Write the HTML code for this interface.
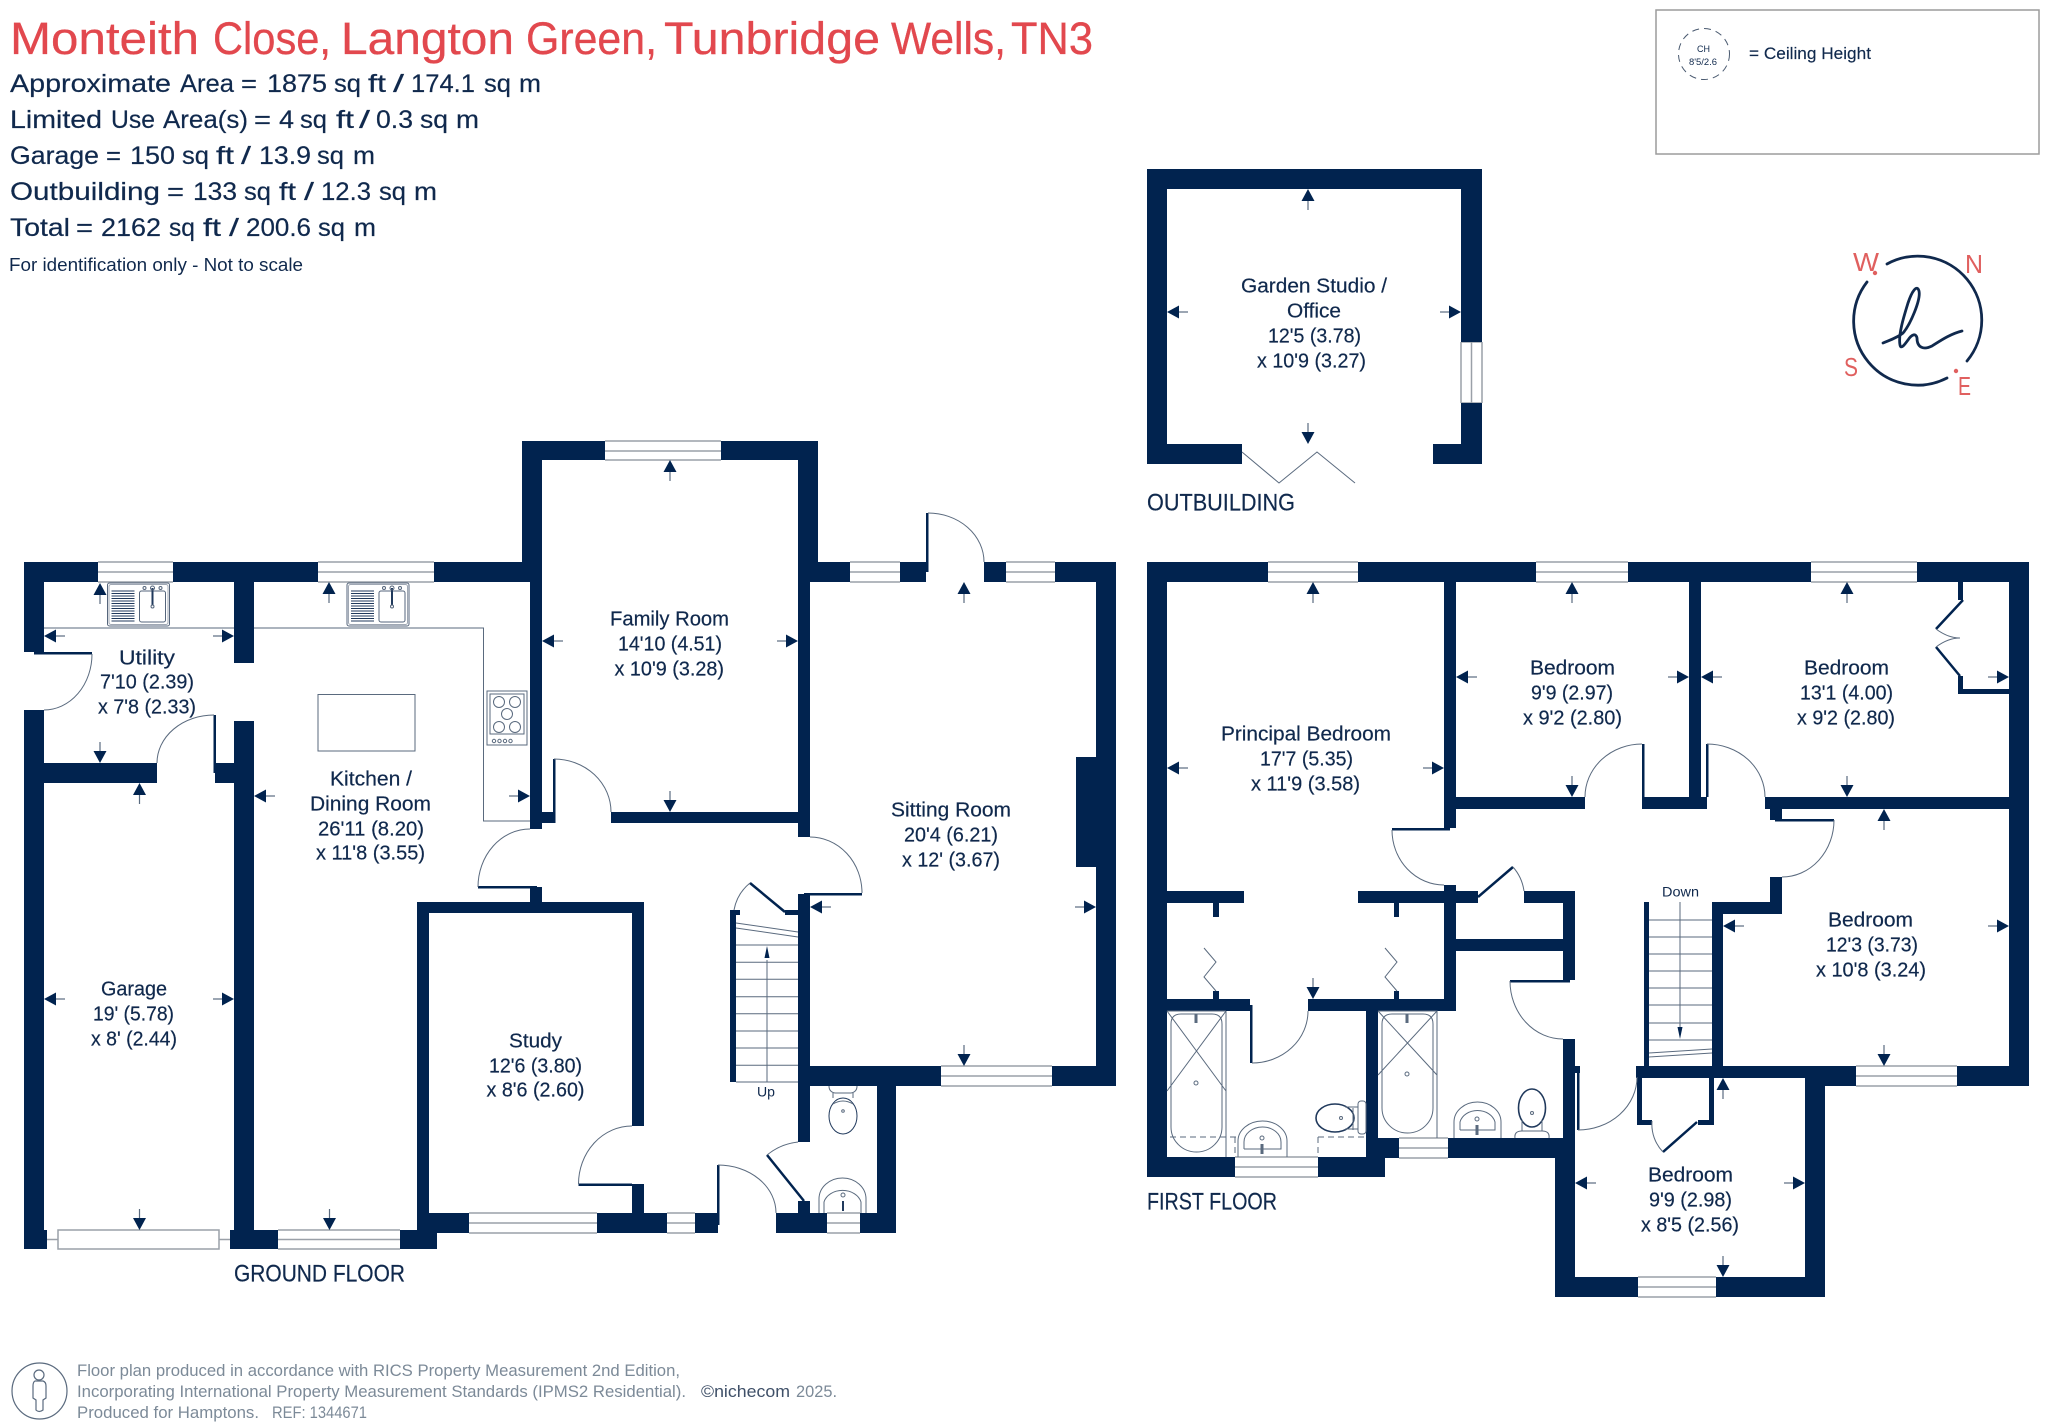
<!DOCTYPE html>
<html><head><meta charset="utf-8"><style>
html,body{margin:0;padding:0;background:#fff}
svg{display:block}
text{font-family:"Liberation Sans",sans-serif;fill:#10294d}
.r{font-size:20px;stroke:#10294d;stroke-width:.2}
.h{font-size:25px;stroke:#10294d;stroke-width:.2}
.f{font-size:24px;stroke:#10294d;stroke-width:.2}
.g{font-size:17px;fill:#7c8a98}
.t{font-size:45px;fill:#e2484e;stroke:#e2484e;stroke-width:.3}
</style></head><body>
<svg width="2048" height="1427" viewBox="0 0 2048 1427" xmlns="http://www.w3.org/2000/svg">
<defs>
<g id="a"><path d="M0 0L-6.5 12H6.5Z" fill="#01234f"/><path d="M0 12V21" stroke="#5a6b80" stroke-width="1.2" fill="none"/></g>
<g id="sink" fill="none" stroke="#56667c" stroke-width="1">
<rect x="0" y="0" width="62" height="43" rx="2"/>
<rect x="1.5" y="1.5" width="59" height="40" rx="2" stroke="#a0a8b4"/>
<path d="M4 8H27M4 10.500H27M4 13H27M4 15.500H27M4 18H27M4 20.500H27M4 23H27M4 25.500H27M4 28H27M4 30.500H27M4 33H27M4 35.500H27M4 38H27" stroke="#20395c"/>
<rect x="32" y="8" width="26" height="31" rx="2"/>
<path d="M45 5V22" stroke="#20395c" stroke-width="2"/>
<circle cx="45" cy="23.500" r="1.500"/><circle cx="45" cy="5" r="2"/><circle cx="37" cy="5" r="1.500"/><circle cx="53" cy="5" r="1.500"/>
</g>
</defs>

<!-- header -->
<text class="t" x="10" y="54" textLength="189" lengthAdjust="spacingAndGlyphs">Monteith</text>
<text class="t" x="213" y="54" textLength="118" lengthAdjust="spacingAndGlyphs">Close,</text>
<text class="t" x="341" y="54" textLength="173" lengthAdjust="spacingAndGlyphs">Langton</text>
<text class="t" x="526" y="54" textLength="131" lengthAdjust="spacingAndGlyphs">Green,</text>
<text class="t" x="664" y="54" textLength="216" lengthAdjust="spacingAndGlyphs">Tunbridge</text>
<text class="t" x="891" y="54" textLength="115" lengthAdjust="spacingAndGlyphs">Wells,</text>
<text class="t" x="1011" y="54" textLength="82" lengthAdjust="spacingAndGlyphs">TN3</text>

<text class="h" x="10" y="92" textLength="161" lengthAdjust="spacingAndGlyphs">Approximate</text>
<text class="h" x="180" y="92" textLength="54" lengthAdjust="spacingAndGlyphs">Area</text>
<text class="h" x="241" y="92" textLength="16" lengthAdjust="spacingAndGlyphs">=</text>
<text class="h" x="267" y="92" textLength="60" lengthAdjust="spacingAndGlyphs">1875</text>
<text class="h" x="334" y="92" textLength="27" lengthAdjust="spacingAndGlyphs">sq</text>
<text class="h" x="368" y="92" textLength="18" lengthAdjust="spacingAndGlyphs">ft</text>
<text class="h" x="393" y="92" textLength="11" lengthAdjust="spacingAndGlyphs">/</text>
<text class="h" x="411" y="92" textLength="64" lengthAdjust="spacingAndGlyphs">174.1</text>
<text class="h" x="484" y="92" textLength="27" lengthAdjust="spacingAndGlyphs">sq</text>
<text class="h" x="519" y="92" textLength="22" lengthAdjust="spacingAndGlyphs">m</text>

<text class="h" x="10" y="128" textLength="92" lengthAdjust="spacingAndGlyphs">Limited</text>
<text class="h" x="111" y="128" textLength="44" lengthAdjust="spacingAndGlyphs">Use</text>
<text class="h" x="163" y="128" textLength="85" lengthAdjust="spacingAndGlyphs">Area(s)</text>
<text class="h" x="254" y="128" textLength="17" lengthAdjust="spacingAndGlyphs">=</text>
<text class="h" x="279" y="128" textLength="15" lengthAdjust="spacingAndGlyphs">4</text>
<text class="h" x="300" y="128" textLength="27" lengthAdjust="spacingAndGlyphs">sq</text>
<text class="h" x="336" y="128" textLength="18" lengthAdjust="spacingAndGlyphs">ft</text>
<text class="h" x="359" y="128" textLength="11" lengthAdjust="spacingAndGlyphs">/</text>
<text class="h" x="376" y="128" textLength="37" lengthAdjust="spacingAndGlyphs">0.3</text>
<text class="h" x="420" y="128" textLength="28" lengthAdjust="spacingAndGlyphs">sq</text>
<text class="h" x="456" y="128" textLength="23" lengthAdjust="spacingAndGlyphs">m</text>

<text class="h" x="10" y="164" textLength="89" lengthAdjust="spacingAndGlyphs">Garage</text>
<text class="h" x="106" y="164" textLength="15" lengthAdjust="spacingAndGlyphs">=</text>
<text class="h" x="130" y="164" textLength="45" lengthAdjust="spacingAndGlyphs">150</text>
<text class="h" x="182" y="164" textLength="27" lengthAdjust="spacingAndGlyphs">sq</text>
<text class="h" x="216" y="164" textLength="18" lengthAdjust="spacingAndGlyphs">ft</text>
<text class="h" x="241" y="164" textLength="10" lengthAdjust="spacingAndGlyphs">/</text>
<text class="h" x="259" y="164" textLength="52" lengthAdjust="spacingAndGlyphs">13.9</text>
<text class="h" x="317" y="164" textLength="27" lengthAdjust="spacingAndGlyphs">sq</text>
<text class="h" x="353" y="164" textLength="22" lengthAdjust="spacingAndGlyphs">m</text>

<text class="h" x="10" y="200" textLength="150" lengthAdjust="spacingAndGlyphs">Outbuilding</text>
<text class="h" x="167" y="200" textLength="17" lengthAdjust="spacingAndGlyphs">=</text>
<text class="h" x="193" y="200" textLength="44" lengthAdjust="spacingAndGlyphs">133</text>
<text class="h" x="244" y="200" textLength="27" lengthAdjust="spacingAndGlyphs">sq</text>
<text class="h" x="279" y="200" textLength="17" lengthAdjust="spacingAndGlyphs">ft</text>
<text class="h" x="304" y="200" textLength="10" lengthAdjust="spacingAndGlyphs">/</text>
<text class="h" x="321" y="200" textLength="50" lengthAdjust="spacingAndGlyphs">12.3</text>
<text class="h" x="379" y="200" textLength="27" lengthAdjust="spacingAndGlyphs">sq</text>
<text class="h" x="414" y="200" textLength="23" lengthAdjust="spacingAndGlyphs">m</text>

<text class="h" x="10" y="236" textLength="60" lengthAdjust="spacingAndGlyphs">Total</text>
<text class="h" x="76" y="236" textLength="17" lengthAdjust="spacingAndGlyphs">=</text>
<text class="h" x="101" y="236" textLength="60" lengthAdjust="spacingAndGlyphs">2162</text>
<text class="h" x="169" y="236" textLength="26" lengthAdjust="spacingAndGlyphs">sq</text>
<text class="h" x="203" y="236" textLength="18" lengthAdjust="spacingAndGlyphs">ft</text>
<text class="h" x="229" y="236" textLength="10" lengthAdjust="spacingAndGlyphs">/</text>
<text class="h" x="246" y="236" textLength="65" lengthAdjust="spacingAndGlyphs">200.6</text>
<text class="h" x="318" y="236" textLength="27" lengthAdjust="spacingAndGlyphs">sq</text>
<text class="h" x="354" y="236" textLength="22" lengthAdjust="spacingAndGlyphs">m</text>

<text x="9" y="271" font-size="18" textLength="294" lengthAdjust="spacingAndGlyphs">For identification only - Not to scale</text>

<!-- legend -->
<rect x="1656" y="10" width="383" height="144" fill="none" stroke="#9c9c9c" stroke-width="1.500"/>
<circle cx="1704" cy="54" r="25.500" fill="none" stroke="#4a5a70" stroke-width="1" stroke-dasharray="7 5"/>
<text x="1697" y="52" font-size="9.500" textLength="13" lengthAdjust="spacingAndGlyphs">CH</text>
<text x="1689" y="65" font-size="9.500" textLength="28" lengthAdjust="spacingAndGlyphs">8'5/2.6</text>
<text x="1749" y="59" font-size="17" textLength="122" lengthAdjust="spacingAndGlyphs" style="stroke:#10294d;stroke-width:.15">= Ceiling Height</text>

<!-- compass -->
<g fill="none" stroke="#10294d" stroke-width="2.800" stroke-linecap="round">
<path d="M1867 282A64 64 0 0 0 1947 378"/>
<path d="M1887 264A64 64 0 0 1 1967 361"/>
<path d="M1883 343C1890 340 1897 338 1903 333C1910 325 1921 300 1919 291C1917 284 1912 291 1908 303C1904 316 1898 335 1900 345C1901 350 1905 344 1908 340C1912 334 1916 333 1917 338C1917 348 1924 350 1932 346C1940 341 1950 334 1962 331"/>
</g>
<text x="1853" y="271" font-size="26" style="fill:#e0605f" textLength="26" lengthAdjust="spacingAndGlyphs">W</text>
<text x="1965" y="273" font-size="26" style="fill:#e0605f" textLength="18" lengthAdjust="spacingAndGlyphs">N</text>
<text x="1844" y="376" font-size="26" style="fill:#e0605f" textLength="14" lengthAdjust="spacingAndGlyphs">S</text>
<text x="1958" y="395" font-size="26" style="fill:#e0605f" textLength="13" lengthAdjust="spacingAndGlyphs">E</text>
<circle cx="1875" cy="273" r="2.200" fill="#e0605f"/><circle cx="1956" cy="371" r="2.200" fill="#e0605f"/>

<!-- windows -->
<path fill="none" stroke="#9aa0a8" stroke-width="1.500" d="
M98 562H173M98 572H173M98 582H173
M318 562H434M318 572H434M318 582H434
M605 441H721M605 451H721M605 460H721
M850 562H900M850 572H900M850 582H900
M1006 562H1055M1006 572H1055M1006 582H1055
M941 1066H1052M941 1076H1052M941 1086H1052
M469 1213H597M469 1223H597M469 1233H597
M667 1213H695M667 1223H695M667 1233H695
M827 1213H860M827 1223H860M827 1233H860
M278 1230H400M278 1239.500H400M278 1249H400
M1268 562H1358M1268 572H1358M1268 582H1358
M1536 562H1628M1536 572H1628M1536 582H1628
M1811 562H1917M1811 572H1917M1811 582H1917
M1235 1157H1318M1235 1167H1318M1235 1177H1318
M1399 1138H1448M1399 1148H1448M1399 1158H1448
M1856 1066H1957M1856 1076H1957M1856 1086H1957
M1638 1277H1716M1638 1287H1716M1638 1297H1716
M1461 342V403M1471.500 342V403M1482 342V403M1461 342H1482M1461 403H1482
M58 1230H219V1249H58ZM47 1239.500H58M219 1239.500H230"/>

<!-- walls -->
<path fill="#01234f" d="
M24 562H98V582H24Z M173 562H318V582H173Z M434 562H530V582H434Z
M24 562H44V652H24Z M24 710H44V1230H24Z M24 1230H47V1249H24Z
M234 582H254V663H234Z M234 721H254V1230H234Z M230 1230H278V1249H230Z
M44 763H157V783H44Z M215 763H234V783H215Z
M522 441H542V562H522Z M530 562H542V829H530Z
M522 441H605V460H522Z M721 441H818V460H721Z
M798 441H818V582H798Z M798 562H810V837H798Z
M542 812H553V823H542Z M611 812H798V823H611Z
M818 562H850V582H818Z M900 562H926V582H900Z M984 562H1006V582H984Z M1055 562H1116V582H1055Z
M1096 562H1116V1086H1096Z M1076 757H1096V867H1076Z
M798 894H810V1142H798Z M798 1066H941V1086H798Z M1052 1066H1116V1086H1052Z
M877 1086H896V1233H877Z M776 1213H827V1233H776Z M860 1213H896V1233H860Z M798 1201H810V1213H798Z
M695 1213H718V1233H695Z M597 1213H667V1233H597Z M417 1213H469V1233H417Z
M417 902H644V913H417Z M417 902H429V1213H417Z M632 913H644V1126H632Z M632 1184H644V1213H632Z
M530 887H542V902H530Z M400 1230H437V1249H400Z
M730 910H736V1082H730Z M730 910H740V915H730Z M785 910H798V915H785Z
M34 652H92V654.500H34Z M213.500 715H216V773H213.500Z M553 759H555.500V823H553Z M478 886H537V888.500H478Z
M804 893H862V895.500H804Z M926 513H928.500V572H926Z M578.500 1183.500H632V1186H578.500Z M717 1165H719.500V1225H717Z

M1147 562H1268V582H1147Z M1358 562H1536V582H1358Z M1628 562H1811V582H1628Z M1917 562H2029V582H1917Z
M1147 562H1167V1177H1147Z
M1444 582H1456V828H1444Z M1444 885H1456V1011H1444Z
M1456 797H1585V809H1456Z M1642 797H1707V809H1642Z M1689 582H1701V797H1689Z M1765 797H2009V809H1765Z
M1770 809H1782V820H1770Z M1770 877H1782V914H1770Z M1712 902H1782V914H1712Z M1712 902H1723V1066H1712Z
M2009 562H2029V1086H2009Z
M1636 1066H1825V1078H1636Z M1825 1066H1856V1086H1825Z M1805 1066H1825V1297H1805Z M1957 1066H2029V1086H1957Z
M1563 1039H1575V1138H1563Z M1555 1138H1575V1297H1555Z M1555 1277H1638V1297H1555Z M1716 1277H1825V1297H1716Z
M1637 1078H1642V1125H1637Z M1637 1120H1652V1125H1637Z M1709 1078H1714V1125H1709Z M1698 1120H1714V1125H1698Z
M1644 902H1649V1066H1644Z M1575 1066H1580V1073H1575Z
M1167 891H1244V903H1167Z M1358 891H1478V903H1358Z M1524 891H1575V903H1524Z M1563 891H1575V980H1563Z M1456 939H1563V951H1456Z
M1213 903H1219V917H1213Z M1394 903H1399V917H1394Z M1213 991H1219V999H1213Z M1394 991H1399V999H1394Z
M1167 999H1250V1011H1167Z M1308 999H1456V1011H1308Z M1250 1005H1252.500V1063H1250Z
M1366 1011H1378V1158H1366Z M1147 1157H1235V1177H1147Z M1318 1157H1385V1177H1318Z M1378 1138H1399V1158H1378Z M1448 1138H1575V1158H1448Z
M1958 582H1963V600H1958Z M1958 676H1963V694H1958Z M1958 689H2009V694H1958Z
M1392 828H1450V830.500H1392Z M1642 744H1644.500V797H1642Z M1706 744H1708.500V797H1706Z M1775 819H1834V821.500H1775Z
M1510 980H1570V982.500H1510Z M1577 1073H1579.500V1130H1577Z

M1147 169H1482V189H1147Z M1147 169H1167V464H1147Z M1461 169H1482V342H1461Z M1461 403H1482V464H1461Z M1147 444H1242V464H1147Z M1433 444H1482V464H1433Z"/>

<!-- door leaves (angled) -->
<g fill="none" stroke="#01234f" stroke-width="2.500">
<path d="M804 1201L767 1155M750 883L785 912M1478 897L1513 867M1663 1152L1697 1122"/>
<path d="M1963 600L1936 629M1936 647L1960 676"/>
</g>

<!-- door arcs & thin lines -->
<g fill="none" stroke="#5a6a7e" stroke-width="1">
<path d="M92 654A48 56 0 0 1 44 710"/>
<path d="M214 715A57 48 0 0 0 157 763"/>
<path d="M554 759A57 53 0 0 1 611 812"/>
<path d="M530 829A52 58 0 0 0 478 887"/>
<path d="M810 837A52 56 0 0 1 862 893"/>
<path d="M928 513A56 49 0 0 1 984 562"/>
<path d="M632 1126A53.500 58 0 0 0 578.500 1184"/>
<path d="M718 1165A58 48 0 0 1 776 1213"/>
<path d="M798 1142A59 59 0 0 0 767 1155"/>
<path d="M734 910A45 45 0 0 1 750 883"/>
<path d="M1392 830A52 55 0 0 0 1444 885"/>
<path d="M1585 797A57 53 0 0 1 1642 744"/>
<path d="M1707 744A58 53 0 0 1 1765 797"/>
<path d="M1834 820A52 57 0 0 1 1782 877"/>
<path d="M1513 867A46 46 0 0 1 1524 891"/>
<path d="M1252 1063A56 52 0 0 0 1308 1011"/>
<path d="M1510 981A53 58 0 0 0 1563 1039"/>
<path d="M1578 1130A59 53 0 0 0 1637 1077"/>
<path d="M1652 1121A40 40 0 0 0 1663 1152"/>
<path d="M1936 629Q1948 638 1960 638Q1948 638 1936 647"/>
<!-- bifold -->
<path d="M1242 452L1279 483L1317 452L1355 483"/>
<!-- wardrobes -->
<path d="M1204 948L1216 962L1204 977L1216 991M1385 948L1397 962L1385 977L1397 991"/>
<!-- worktop -->
<path d="M44 628H234M254 628H483.500V821H530"/>
<rect x="318" y="694.500" width="97" height="56.500"/>
<!-- stairs -->
<path d="M736 923L798 932M736 928L798 937M736 945H798M736 962.300H798M736 979.300H798M736 996.700H798M736 1013.700H798M736 1031H798M736 1048H798M736 1065.300H798M736 1082H798M767 1082V960"/>
<path d="M1649 920H1712M1649 937H1712M1649 954H1712M1649 971H1712M1649 988H1712M1649 1005H1712M1649 1023H1712M1649 1040H1712M1649 1053L1712 1049M1649 1057L1712 1053M1680 902V1030"/>
<!-- hob -->
<rect x="487" y="691" width="40" height="54"/><rect x="490" y="694" width="34" height="40"/>
<circle cx="499" cy="702" r="5.500"/><circle cx="515" cy="702" r="5.500"/><circle cx="507" cy="714" r="5.500"/><circle cx="499" cy="727" r="5.500"/><circle cx="515" cy="727" r="5.500"/>
<circle cx="494" cy="741" r="1.700"/><circle cx="499.500" cy="741" r="1.700"/><circle cx="505" cy="741" r="1.700"/><circle cx="510.500" cy="741" r="1.700"/>
<!-- WC -->
<path d="M829 1086Q829 1092 835 1093H851Q857 1092 857 1086"/>
<path d="M833 1093V1098M853 1093V1098"/>
<ellipse cx="843" cy="1116" rx="14" ry="18" stroke="#20395c"/>
<path d="M833 1104Q843 1098 853 1104"/>
<circle cx="843" cy="1111" r="1.300"/>
<path d="M819 1213V1199A23.500 21 0 0 1 866 1199V1213M824 1213V1202A19 15 0 0 1 861 1202V1213"/>
<circle cx="843" cy="1195" r="2"/>
<path d="M843 1201V1211" stroke="#20395c" stroke-width="2"/>
<!-- bath 1 -->
<path d="M1226 1011V1157M1167 1011H1226"/>
<path d="M1171 1024Q1171 1014 1181 1014H1212Q1222 1014 1222 1024V1127A25.500 25 0 0 1 1171 1127Z"/>
<path d="M1167 1011L1226 1091M1226 1011L1167 1091"/>
<circle cx="1196" cy="1083" r="2"/>
<path d="M1196 1014V1023" stroke-width="3"/>
<path d="M1170 1137H1236M1235 1137V1157M1318 1137H1366M1318 1137V1157" stroke-dasharray="6 4"/>
<!-- basin 1 -->
<path d="M1238 1157V1141A24.500 20 0 0 1 1287 1141V1157"/>
<path d="M1244 1149V1142A18.500 15 0 0 1 1281 1142V1149H1244"/>
<circle cx="1262" cy="1138" r="2"/><path d="M1262 1144V1154" stroke-width="3"/>
<!-- toilet 1 -->
<ellipse cx="1335" cy="1118" rx="19" ry="14" stroke="#20395c" stroke-width="1.600"/>
<path d="M1345 1107H1358M1345 1129H1358M1353 1108V1130"/>
<rect x="1358" y="1101" width="8" height="33" rx="3"/>
<circle cx="1341" cy="1118" r="1.500"/>
<!-- bath 2 -->
<path d="M1378 1011H1437V1138"/>
<path d="M1382 1024Q1382 1014 1392 1014H1423Q1433 1014 1433 1024V1108A25.500 25 0 0 1 1382 1108Z"/>
<path d="M1378 1011L1437 1075M1437 1011L1378 1075"/>
<circle cx="1407" cy="1074" r="2"/>
<path d="M1407 1014V1023" stroke-width="3"/>
<!-- basin 2 -->
<path d="M1454 1138V1122A23.500 20 0 0 1 1501 1122V1138"/>
<path d="M1460 1130V1122A18 15 0 0 1 1495 1122V1130H1460"/>
<circle cx="1477" cy="1119" r="2"/><path d="M1477 1125V1135" stroke-width="3"/>
<!-- toilet 2 -->
<ellipse cx="1532" cy="1108" rx="13.500" ry="19" stroke="#20395c" stroke-width="1.600"/>
<path d="M1515 1138Q1514 1131 1522 1131H1542Q1550 1131 1549 1138"/>
<path d="M1522 1120V1131M1542 1120V1131"/>
<circle cx="1532" cy="1113" r="1.500"/>
</g>
<use href="#sink" x="107.500" y="583"/>
<use href="#sink" x="347" y="583"/>

<!-- stair arrowheads -->
<path d="M767 946L764.500 958H769.500Z" fill="#01234f"/>
<path d="M1680 1039L1677.500 1027H1682.500Z" fill="#01234f"/>

<!-- dimension arrows -->
<use href="#a" transform="translate(100 583)"/>
<use href="#a" transform="translate(329 582)"/>
<use href="#a" transform="translate(44 636) rotate(270)"/>
<use href="#a" transform="translate(234 636) rotate(90)"/>
<use href="#a" transform="translate(100 763) rotate(180)"/>
<use href="#a" transform="translate(139.500 783)"/>
<use href="#a" transform="translate(254 796) rotate(270)"/>
<use href="#a" transform="translate(530 796) rotate(90)"/>
<use href="#a" transform="translate(44 999) rotate(270)"/>
<use href="#a" transform="translate(234 999) rotate(90)"/>
<use href="#a" transform="translate(139.500 1230) rotate(180)"/>
<use href="#a" transform="translate(329.500 1230) rotate(180)"/>
<use href="#a" transform="translate(670 460)"/>
<use href="#a" transform="translate(542 641) rotate(270)"/>
<use href="#a" transform="translate(798 641) rotate(90)"/>
<use href="#a" transform="translate(670 812) rotate(180)"/>
<use href="#a" transform="translate(964 582)"/>
<use href="#a" transform="translate(810 907) rotate(270)"/>
<use href="#a" transform="translate(1096 907) rotate(90)"/>
<use href="#a" transform="translate(964 1066) rotate(180)"/>
<use href="#a" transform="translate(1308 189)"/>
<use href="#a" transform="translate(1308 444) rotate(180)"/>
<use href="#a" transform="translate(1167 312) rotate(270)"/>
<use href="#a" transform="translate(1461 312) rotate(90)"/>
<use href="#a" transform="translate(1313 582)"/>
<use href="#a" transform="translate(1167 768) rotate(270)"/>
<use href="#a" transform="translate(1444 768) rotate(90)"/>
<use href="#a" transform="translate(1313 999) rotate(180)"/>
<use href="#a" transform="translate(1572 582)"/>
<use href="#a" transform="translate(1456 677) rotate(270)"/>
<use href="#a" transform="translate(1689 677) rotate(90)"/>
<use href="#a" transform="translate(1572 797) rotate(180)"/>
<use href="#a" transform="translate(1847 582)"/>
<use href="#a" transform="translate(1701 677) rotate(270)"/>
<use href="#a" transform="translate(2009 677) rotate(90)"/>
<use href="#a" transform="translate(1847 797) rotate(180)"/>
<use href="#a" transform="translate(1884 809)"/>
<use href="#a" transform="translate(1723 926) rotate(270)"/>
<use href="#a" transform="translate(2009 926) rotate(90)"/>
<use href="#a" transform="translate(1884 1066) rotate(180)"/>
<use href="#a" transform="translate(1723 1078)"/>
<use href="#a" transform="translate(1575 1183) rotate(270)"/>
<use href="#a" transform="translate(1805 1183) rotate(90)"/>
<use href="#a" transform="translate(1723 1277) rotate(180)"/>

<!-- room labels -->
<g transform="translate(0 -0.7)">
<text class="r" x="119" y="665" textLength="56" lengthAdjust="spacingAndGlyphs">Utility</text>
<text class="r" x="100" y="689" textLength="94" lengthAdjust="spacingAndGlyphs">7'10 (2.39)</text>
<text class="r" x="98" y="714" textLength="98" lengthAdjust="spacingAndGlyphs">x 7'8 (2.33)</text>
<text class="r" x="330" y="786" textLength="82" lengthAdjust="spacingAndGlyphs">Kitchen /</text>
<text class="r" x="310" y="811" textLength="121" lengthAdjust="spacingAndGlyphs">Dining Room</text>
<text class="r" x="318" y="836" textLength="106" lengthAdjust="spacingAndGlyphs">26'11 (8.20)</text>
<text class="r" x="316" y="860" textLength="109" lengthAdjust="spacingAndGlyphs">x 11'8 (3.55)</text>
<text class="r" x="101" y="996" textLength="66" lengthAdjust="spacingAndGlyphs">Garage</text>
<text class="r" x="93" y="1021" textLength="81" lengthAdjust="spacingAndGlyphs">19' (5.78)</text>
<text class="r" x="91" y="1046" textLength="86" lengthAdjust="spacingAndGlyphs">x 8' (2.44)</text>
<text class="r" x="509" y="1048" textLength="53" lengthAdjust="spacingAndGlyphs">Study</text>
<text class="r" x="489" y="1073" textLength="93" lengthAdjust="spacingAndGlyphs">12'6 (3.80)</text>
<text class="r" x="486.500" y="1097" textLength="98" lengthAdjust="spacingAndGlyphs">x 8'6 (2.60)</text>
<text class="r" x="610" y="626" textLength="119" lengthAdjust="spacingAndGlyphs">Family Room</text>
<text class="r" x="618" y="651" textLength="104" lengthAdjust="spacingAndGlyphs">14'10 (4.51)</text>
<text class="r" x="614.500" y="676" textLength="109.500" lengthAdjust="spacingAndGlyphs">x 10'9 (3.28)</text>
<text class="r" x="891" y="817" textLength="120" lengthAdjust="spacingAndGlyphs">Sitting Room</text>
<text class="r" x="904" y="842" textLength="94" lengthAdjust="spacingAndGlyphs">20'4 (6.21)</text>
<text class="r" x="902" y="867" textLength="98" lengthAdjust="spacingAndGlyphs">x 12' (3.67)</text>
<text x="757" y="1097" font-size="14" textLength="18" lengthAdjust="spacingAndGlyphs">Up</text>
<text x="1662" y="897" font-size="14" textLength="37" lengthAdjust="spacingAndGlyphs">Down</text>
<text class="f" x="234" y="1282" textLength="171" lengthAdjust="spacingAndGlyphs">GROUND FLOOR</text>
<text class="f" x="1147" y="1210" textLength="130" lengthAdjust="spacingAndGlyphs">FIRST FLOOR</text>
<text class="f" x="1147" y="511" textLength="148" lengthAdjust="spacingAndGlyphs">OUTBUILDING</text>
<text class="r" x="1241" y="293" textLength="146" lengthAdjust="spacingAndGlyphs">Garden Studio /</text>
<text class="r" x="1287" y="318" textLength="54" lengthAdjust="spacingAndGlyphs">Office</text>
<text class="r" x="1268" y="343" textLength="93" lengthAdjust="spacingAndGlyphs">12'5 (3.78)</text>
<text class="r" x="1257" y="368" textLength="109" lengthAdjust="spacingAndGlyphs">x 10'9 (3.27)</text>
<text class="r" x="1221" y="741" textLength="170" lengthAdjust="spacingAndGlyphs">Principal Bedroom</text>
<text class="r" x="1260" y="766" textLength="93" lengthAdjust="spacingAndGlyphs">17'7 (5.35)</text>
<text class="r" x="1251" y="791" textLength="109" lengthAdjust="spacingAndGlyphs">x 11'9 (3.58)</text>
<text class="r" x="1530" y="675" textLength="85" lengthAdjust="spacingAndGlyphs">Bedroom</text>
<text class="r" x="1531" y="700" textLength="82" lengthAdjust="spacingAndGlyphs">9'9 (2.97)</text>
<text class="r" x="1523" y="725" textLength="99" lengthAdjust="spacingAndGlyphs">x 9'2 (2.80)</text>
<text class="r" x="1804" y="675" textLength="85" lengthAdjust="spacingAndGlyphs">Bedroom</text>
<text class="r" x="1800" y="700" textLength="93" lengthAdjust="spacingAndGlyphs">13'1 (4.00)</text>
<text class="r" x="1797" y="725" textLength="98" lengthAdjust="spacingAndGlyphs">x 9'2 (2.80)</text>
<text class="r" x="1828" y="927" textLength="85" lengthAdjust="spacingAndGlyphs">Bedroom</text>
<text class="r" x="1826" y="952" textLength="92" lengthAdjust="spacingAndGlyphs">12'3 (3.73)</text>
<text class="r" x="1816" y="977" textLength="110" lengthAdjust="spacingAndGlyphs">x 10'8 (3.24)</text>
<text class="r" x="1648" y="1182" textLength="85" lengthAdjust="spacingAndGlyphs">Bedroom</text>
<text class="r" x="1649" y="1207" textLength="83" lengthAdjust="spacingAndGlyphs">9'9 (2.98)</text>
<text class="r" x="1641" y="1232" textLength="98" lengthAdjust="spacingAndGlyphs">x 8'5 (2.56)</text>
</g>

<!-- footer -->
<ellipse cx="39.500" cy="1391" rx="27.500" ry="28" fill="none" stroke="#5a6a7e" stroke-width="1.200"/>
<circle cx="39" cy="1375" r="5" fill="none" stroke="#5a6a7e" stroke-width="1.200"/>
<path d="M35 1381H43Q46 1382 46 1386V1398L43 1400V1410Q39 1413 36 1410V1400L33 1398V1386Q33 1382 35 1381Z" fill="none" stroke="#5a6a7e" stroke-width="1.200"/>
<text class="g" x="77" y="1376" textLength="603" lengthAdjust="spacingAndGlyphs">Floor plan produced in accordance with RICS Property Measurement 2nd Edition,</text>
<text class="g" x="77" y="1397" textLength="609" lengthAdjust="spacingAndGlyphs">Incorporating International Property Measurement Standards (IPMS2 Residential).</text>
<text class="g" x="77" y="1418" textLength="182" lengthAdjust="spacingAndGlyphs">Produced for Hamptons.</text>
<text class="g" x="272" y="1418" textLength="95" lengthAdjust="spacingAndGlyphs">REF: 1344671</text>
<text x="701" y="1397" font-size="17" style="fill:#3f5068" textLength="89" lengthAdjust="spacingAndGlyphs">©nichecom</text>
<text class="g" x="796" y="1397" textLength="41" lengthAdjust="spacingAndGlyphs">2025.</text>
</svg>
</body></html>
